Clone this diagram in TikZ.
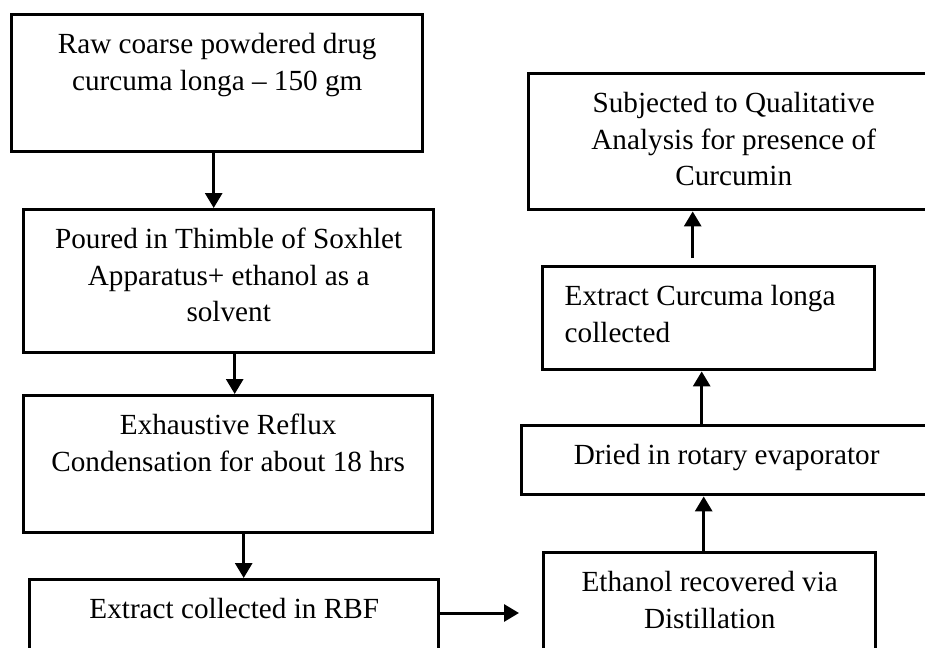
\documentclass[tikz,border=0pt]{standalone}
\usepackage{fontspec}
\setmainfont{Liberation Serif}
\usetikzlibrary{arrows.meta}
\newcommand{\boxtext}[4]{\parbox[t][#2pt][t]{#1pt}{\fontsize{29.2pt}{36.5pt}\selectfont#3\rule{0pt}{39pt}#4}}
\begin{document}
\begin{tikzpicture}[x=1pt,y=-1pt,
  box/.style={draw,line width=3.4pt,inner sep=0pt,rectangle,anchor=north west},
  arr/.style={line width=3pt,-{Triangle[length=15pt,width=17pt]}}]
\useasboundingbox (0,0) rectangle (925,647);
\clip (0,0) rectangle (925,647);
\node[box] (B1) at (10,13) {\boxtext{411}{137}{\centering}{Raw coarse powdered drug\\curcuma longa -- 150 gm}};
\node[box] (B2) at (22,208) {\boxtext{410}{143}{\centering}{Poured in Thimble of Soxhlet\\Apparatus+ ethanol as a\\solvent}};
\node[box] (B3) at (22,394) {\boxtext{409}{137}{\centering}{Exhaustive Reflux\\Condensation for about 18 hrs}};
\node[box] (B4) at (28,578) {\boxtext{409}{100}{\centering}{Extract collected in RBF}};
\node[box] (E) at (542,551) {\boxtext{332}{110}{\centering}{Ethanol recovered via\\Distillation}};
\node[box] (D) at (520,424) {\boxtext{410}{69}{\centering}{Dried in rotary evaporator}};
\node[box] (X) at (541,265) {\boxtext{332}{103}{\raggedright\leftskip=22pt}{Extract Curcuma longa\\collected}};
\node[box] (S) at (527,72) {\boxtext{410}{136}{\centering}{Subjected to Qualitative\\Analysis for presence of\\Curcumin}};
\draw[arr] ([xshift=-3.5pt]B1.south) -- ([xshift=-3.5pt]B1.south |- B2.north);
\draw[arr] ([xshift=6pt]B2.south) -- ([xshift=6pt]B2.south |- B3.north);
\draw[arr] ([xshift=15.5pt]B3.south) -- ([xshift=15.5pt]B3.south |- B4.north);
\draw[arr] ([yshift=-35pt]B4.north east) -- ([xshift=-23pt,yshift=-35pt]B4.north east -| E.west);
\draw[arr] ([xshift=-6pt]E.north) -- ([xshift=-6pt]E.north |- D.south);
\draw[arr] ([xshift=-25pt]D.north) -- ([xshift=-25pt]D.north |- X.south);
\draw[arr] ([xshift=-16pt,yshift=7pt]X.north) -- ([xshift=-16pt]X.north |- S.south);
\end{tikzpicture}
\end{document}
